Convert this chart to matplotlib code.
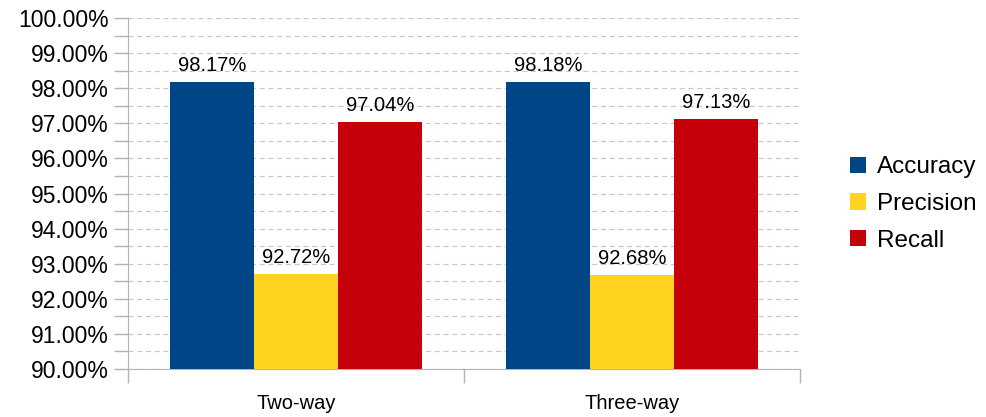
import numpy as np
import matplotlib.pyplot as plt
from matplotlib.ticker import MultipleLocator, FuncFormatter, FixedLocator

plt.rcParams['font.family'] = ['Liberation Sans', 'DejaVu Sans']

# Classification results per method
groups = ['Two-way', 'Three-way']
metrics = ['Accuracy', 'Precision', 'Recall']
accuracy = [98.17, 98.18]
precision = [92.72, 92.68]
recall = [97.04, 97.13]
colors = ['#004586', '#ffd320', '#c5000b']

fig = plt.figure(figsize=(9.87, 4.17), dpi=100)
ax = fig.add_axes([0.1297, 0.1151, 0.6808, 0.8417])

x = np.arange(len(groups)) + 0.5
w = 0.25
for i, (vals, name) in enumerate(zip([accuracy, precision, recall], metrics)):
    pos = x + (i - 1) * w
    ax.bar(pos, np.array(vals) - 90, bottom=90, width=w, color=colors[i],
           label=name, zorder=3)
    for p, v in zip(pos, vals):
        ax.text(p, v + 0.2, '%.2f%%' % v, ha='center', va='bottom',
                fontsize=14.5, color='#000000')

ax.set_xlim(0, 2)
ax.set_ylim(90, 100)
ax.yaxis.set_major_locator(MultipleLocator(1))
ax.yaxis.set_minor_locator(MultipleLocator(0.5))
ax.yaxis.set_major_formatter(FuncFormatter(lambda v, _: '%.2f%%' % v))
ax.grid(axis='y', which='both', color='#c8c8c8', linestyle=(0, (4, 3)),
        linewidth=0.9, zorder=0)

ax.xaxis.set_major_locator(FixedLocator([0, 1, 2]))
ax.xaxis.set_major_formatter(FuncFormatter(lambda v, _: ''))
ax.xaxis.set_minor_locator(FixedLocator(list(x)))
ax.set_xticklabels(groups, minor=True)
ax.tick_params(axis='x', which='minor', length=0, labelsize=14.5, pad=18)
ax.tick_params(axis='x', which='major', length=10, color='#b3b3b3', width=1)
ax.tick_params(axis='y', which='both', length=10, color='#b3b3b3', width=1,
               labelsize=16.5, pad=4)

for s in ['top', 'right']:
    ax.spines[s].set_visible(False)
for s in ['left', 'bottom']:
    ax.spines[s].set_color('#b3b3b3')

ax.legend(loc='center left', bbox_to_anchor=(1.042, 0.47), frameon=False,
          fontsize=17.5, handlelength=0.65, handleheight=0.65,
          handletextpad=0.45, labelspacing=0.6)

fig.savefig('out.png', dpi=100)
